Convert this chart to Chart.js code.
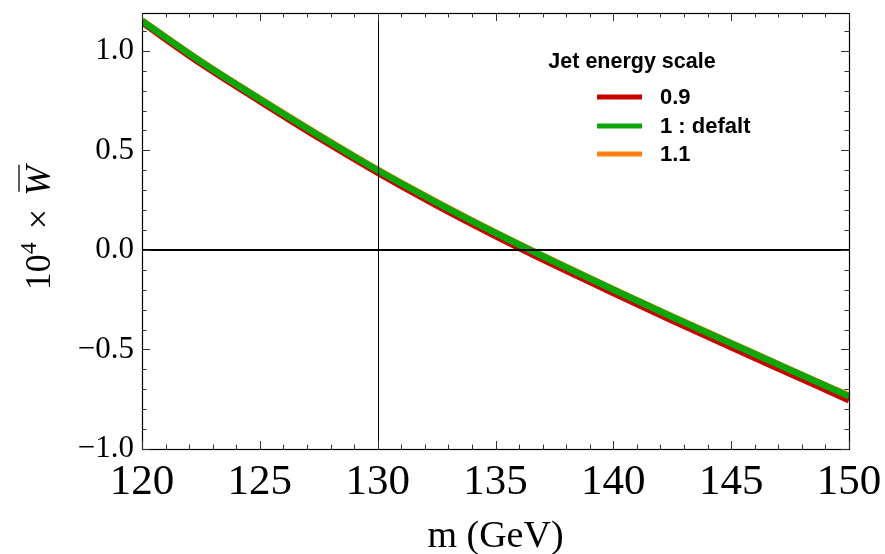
<!DOCTYPE html>
<html>
<head>
<meta charset="utf-8">
<script src="https://cdn.jsdelivr.net/npm/chart.js@4.4.1/dist/chart.umd.min.js"></script>
<style>
  html, body { margin: 0; padding: 0; background: #fff; }
  #wrap { width: 885px; height: 554px; position: relative; }
</style>
</head>
<body>
<div id="wrap"><canvas id="c" width="885" height="554"></canvas></div>
<script>
// ---- data ----
const massGeV = [120, 122.5, 125, 127.5, 130, 132.5, 135, 137.5, 140, 142.5, 145, 147.5, 150];
const jes09  = [1.143, 0.936, 0.747, 0.563, 0.388, 0.224, 0.070, -0.076, -0.217, -0.355, -0.489, -0.622, -0.755];
const jes10  = [1.150, 0.945, 0.757, 0.575, 0.400, 0.238, 0.085, -0.060, -0.200, -0.337, -0.470, -0.603, -0.735];
const jes11  = [1.153, 0.948, 0.760, 0.578, 0.403, 0.241, 0.088, -0.057, -0.197, -0.334, -0.467, -0.600, -0.732];
const seriesLabels = ['0.9', '1 : defalt', '1.1'];
const legendTitle = 'Jet energy scale';
const xTitle = 'm (GeV)';
const xTickValues = [120, 125, 130, 135, 140, 145, 150];
const yTickValues = [-1.0, -0.5, 0.0, 0.5, 1.0];

const colors = ['#c80000', '#0aa60a', '#ff8010'];
const toPts = arr => massGeV.map((m, i) => ({ x: m, y: arr[i] }));

const serif = '"Liberation Serif", "DejaVu Serif", serif';
const sans = '"Liberation Sans", Arial, sans-serif';

// frame, ticks, reference lines, y title, legend
const decor = {
  id: 'decor',
  afterDatasetsDraw(chart) {
    const { ctx, chartArea: a, scales: { x, y } } = chart;
    ctx.save();
    // reference lines
    ctx.strokeStyle = '#000';
    ctx.lineWidth = 1;
    const x130 = Math.round(x.getPixelForValue(130)) + 0.5;
    ctx.beginPath(); ctx.moveTo(x130, a.top); ctx.lineTo(x130, a.bottom); ctx.stroke();
    ctx.lineWidth = 2;
    const y0 = Math.round(y.getPixelForValue(0));
    ctx.beginPath(); ctx.moveTo(a.left, y0); ctx.lineTo(a.right, y0); ctx.stroke();
    // frame
    ctx.lineWidth = 1.2;
    ctx.strokeStyle = '#000';
    ctx.strokeRect(a.left + 0.5, a.top + 0.5, a.right - a.left, a.bottom - a.top);
    // ticks
    ctx.lineWidth = 1;
    ctx.strokeStyle = '#333';
    for (let m = 120; m <= 150; m++) {
      const px = Math.round(x.getPixelForValue(m)) + 0.5;
      const len = (m % 5 === 0) ? 8 : 4.5;
      ctx.beginPath();
      ctx.moveTo(px, a.bottom); ctx.lineTo(px, a.bottom - len);
      ctx.moveTo(px, a.top); ctx.lineTo(px, a.top + len);
      ctx.stroke();
    }
    for (let k = -10; k <= 11; k++) {
      const v = k / 10;
      const py = Math.round(y.getPixelForValue(v)) + 0.5;
      const len = (k % 5 === 0) ? 8 : 4.5;
      ctx.beginPath();
      ctx.moveTo(a.left, py); ctx.lineTo(a.left + len, py);
      ctx.moveTo(a.right, py); ctx.lineTo(a.right - len, py);
      ctx.stroke();
    }
    // y axis title: 10^4 x W-bar
    ctx.fillStyle = '#000';
    ctx.translate(50, (a.top + a.bottom) / 2 - 3);
    ctx.rotate(-Math.PI / 2);
    ctx.textBaseline = 'alphabetic';
    ctx.textAlign = 'left';
    const big = '36px ' + serif, small = '24px ' + serif, ital = 'italic 36px ' + serif;
    ctx.font = big; const w10 = ctx.measureText('10').width;
    ctx.font = small; const w4 = ctx.measureText('4').width;
    ctx.font = big; const wx = ctx.measureText('×').width;
    ctx.font = ital; const wW = ctx.measureText('W').width;
    const gap = 13;
    const total = w10 + w4 + gap + wx + gap + wW;
    let cx = -total / 2;
    ctx.font = big; ctx.fillText('10', cx, 0); cx += w10;
    ctx.font = small; ctx.fillText('4', cx, -14); cx += w4 + gap;
    ctx.font = big; ctx.fillText('×', cx, 0); cx += wx + gap;
    ctx.font = ital; ctx.fillText('W', cx, 0);
    ctx.lineWidth = 1.6;
    ctx.beginPath(); ctx.moveTo(cx + 4, -31); ctx.lineTo(cx + wW + 1, -31); ctx.stroke();
    ctx.restore();

    // legend
    ctx.save();
    ctx.fillStyle = '#000';
    ctx.font = 'bold 21.5px ' + sans;
    ctx.textAlign = 'center';
    ctx.textBaseline = 'middle';
    ctx.fillText(legendTitle, 632, 62);
    const rows = [97, 126, 154];
    chart.data.datasets.forEach((ds, i) => {
      ctx.strokeStyle = ds.borderColor;
      ctx.lineWidth = 5;
      ctx.beginPath(); ctx.moveTo(597, rows[i]); ctx.lineTo(642, rows[i]); ctx.stroke();
      ctx.textAlign = 'left';
      ctx.font = 'bold 22px ' + sans;
      ctx.fillText(ds.label, 660, rows[i] + 1);
    });
    ctx.restore();
  }
};

new Chart(document.getElementById('c'), {
  type: 'line',
  data: {
    datasets: [
      { label: seriesLabels[0], data: toPts(jes09), borderColor: colors[0], borderWidth: 6.5, order: 2 },
      { label: seriesLabels[1], data: toPts(jes10), borderColor: colors[1], borderWidth: 6.5, order: 0 },
      { label: seriesLabels[2], data: toPts(jes11), borderColor: colors[2], borderWidth: 6.5, order: 1 }
    ]
  },
  options: {
    responsive: false,
    animation: false,
    devicePixelRatio: 1,
    layout: { padding: { top: 13, right: 36, left: 0, bottom: 0 } },
    elements: { point: { radius: 0 }, line: { cubicInterpolationMode: 'monotone', borderCapStyle: 'butt' } },
    plugins: { legend: { display: false }, tooltip: { enabled: false } },
    scales: {
      x: {
        type: 'linear', min: 120, max: 150,
        grid: { display: false },
        border: { display: false },
        afterBuildTicks: s => { s.ticks = xTickValues.map(v => ({ value: v })); },
        afterFit: s => { s.height = 105; },
        ticks: { font: { family: serif, size: 43 }, color: '#000', padding: 0, maxRotation: 0, autoSkip: false,
                 callback: v => String(v) },
        title: { display: true, text: xTitle, font: { family: serif, size: 38, lineHeight: 0.85 }, color: '#000', padding: { top: 0, bottom: 1 } }
      },
      y: {
        type: 'linear', min: -1.0, max: 1.19,
        grid: { display: false },
        border: { display: false },
        afterBuildTicks: s => { s.ticks = yTickValues.map(v => ({ value: v })); },
        afterFit: s => { s.width = 142; },
        ticks: { font: { family: serif, size: 31, lineHeight: 0.7 }, color: '#000', padding: 0,
                 callback: v => (v < 0 ? '\u2212' : '') + Math.abs(v).toFixed(1) }
      }
    }
  },
  plugins: [decor]
});
</script>
</body>
</html>
